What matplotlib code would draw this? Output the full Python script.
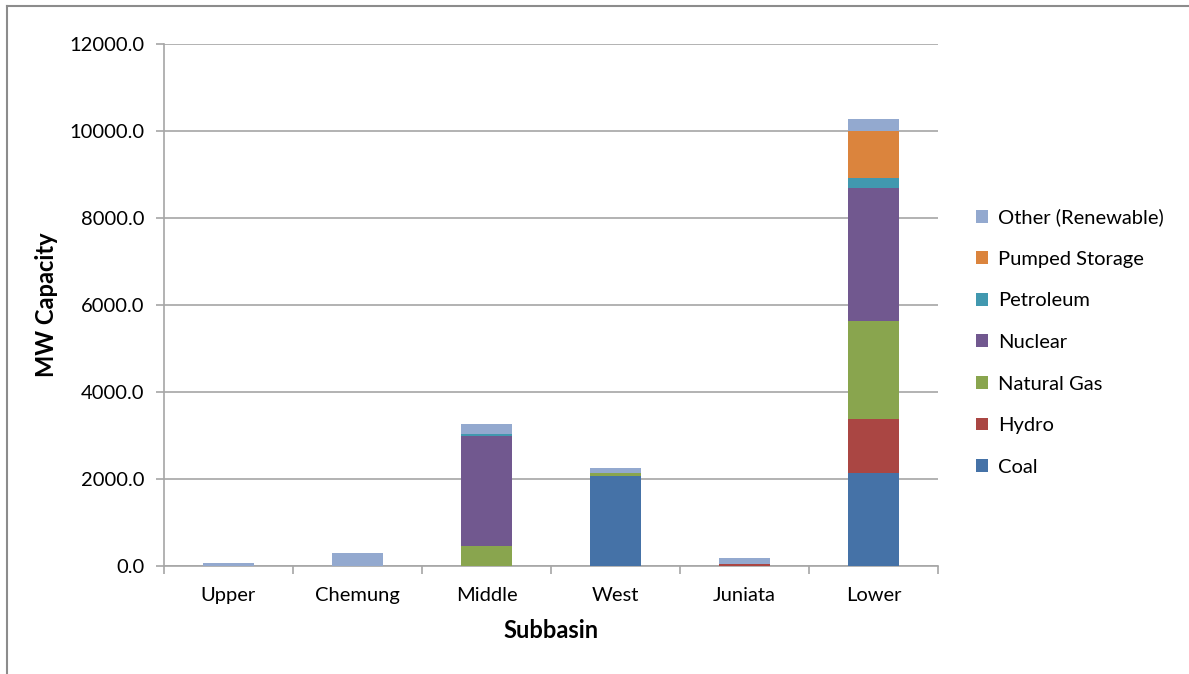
import matplotlib
matplotlib.use('Agg')
import matplotlib.pyplot as plt
import numpy as np
from matplotlib.lines import Line2D

plt.rcParams['font.family'] = ['Lato', 'DejaVu Sans']

subbasins = ['Upper', 'Chemung', 'Middle', 'West', 'Juniata', 'Lower']

coal = [0, 0, 0, 2080, 0, 2130]
hydro = [0, 0, 0, 0, 40, 1240]
natural_gas = [0, 0, 470, 50, 0, 2270]
nuclear = [0, 0, 2520, 0, 0, 3045]
petroleum = [0, 0, 50, 0, 0, 230]
pumped_storage = [0, 0, 0, 0, 0, 1085]
other_renewable = [60, 305, 230, 130, 150, 270]

series = [
    ('Coal', coal, '#4572A7'),
    ('Hydro', hydro, '#AA4643'),
    ('Natural Gas', natural_gas, '#89A54E'),
    ('Nuclear', nuclear, '#71588F'),
    ('Petroleum', petroleum, '#4198AF'),
    ('Pumped Storage', pumped_storage, '#DB843D'),
    ('Other (Renewable)', other_renewable, '#93A9CF'),
]

fig = plt.figure(figsize=(11.89, 6.74), dpi=100)
ax = fig.add_axes([164 / 1189, 1 - 566 / 674, (938 - 164) / 1189, (566 - 44) / 674])

x = np.arange(len(subbasins))
bottom = np.zeros(len(subbasins))
handles = []
for name, vals, color in series:
    vals = np.array(vals, dtype=float)
    bars = ax.bar(x, vals, width=0.4, bottom=bottom, color=color,
                  linewidth=0, label=name, zorder=3)
    handles.append(bars)
    bottom += vals

grid_color = '#A6A6A6'
ax.set_xlim(-0.5, len(subbasins) - 0.5)
ax.set_ylim(0, 12000)
ax.set_yticks(np.arange(0, 12001, 2000))
ax.set_yticklabels(['%.1f' % v for v in np.arange(0, 12001, 2000)])
ax.yaxis.grid(True, color=grid_color, linewidth=1.2, zorder=0)
ax.set_axisbelow(True)

ax.set_xticks(x)
ax.set_xticklabels(subbasins)
ax.set_xticks(np.arange(-0.5, len(subbasins)), minor=True)
ax.tick_params(axis='x', which='major', length=0, pad=15, labelsize=14.5)
ax.tick_params(axis='x', which='minor', length=6, width=1.2, color=grid_color)
ax.tick_params(axis='y', length=6, width=1.2, color=grid_color, labelsize=14.5,
               pad=8)

for side in ('top', 'right'):
    ax.spines[side].set_visible(False)
for side in ('left', 'bottom'):
    ax.spines[side].set_color(grid_color)
    ax.spines[side].set_linewidth(1.2)

ax.set_xlabel('Subbasin', fontsize=17, fontweight='bold', labelpad=11)
ax.set_ylabel('MW Capacity', fontsize=17, fontweight='bold', labelpad=8)

leg = fig.legend(handles[::-1], [s[0] for s in series][::-1],
                 loc='center left', bbox_to_anchor=(958 / 1189, 1 - 342 / 674),
                 frameon=False, fontsize=14.5, handlelength=0.6,
                 handleheight=0.6, handletextpad=0.5, labelspacing=1.22)

# outer chart frame
fig.add_artist(Line2D([7 / 1189, 1], [1 - 6 / 674, 1 - 6 / 674],
                      transform=fig.transFigure, color='#8C8C8C', linewidth=1.5))
fig.add_artist(Line2D([7 / 1189, 7 / 1189], [0, 1 - 6 / 674],
                      transform=fig.transFigure, color='#8C8C8C', linewidth=1.5))

fig.savefig('out.png', dpi=100)
